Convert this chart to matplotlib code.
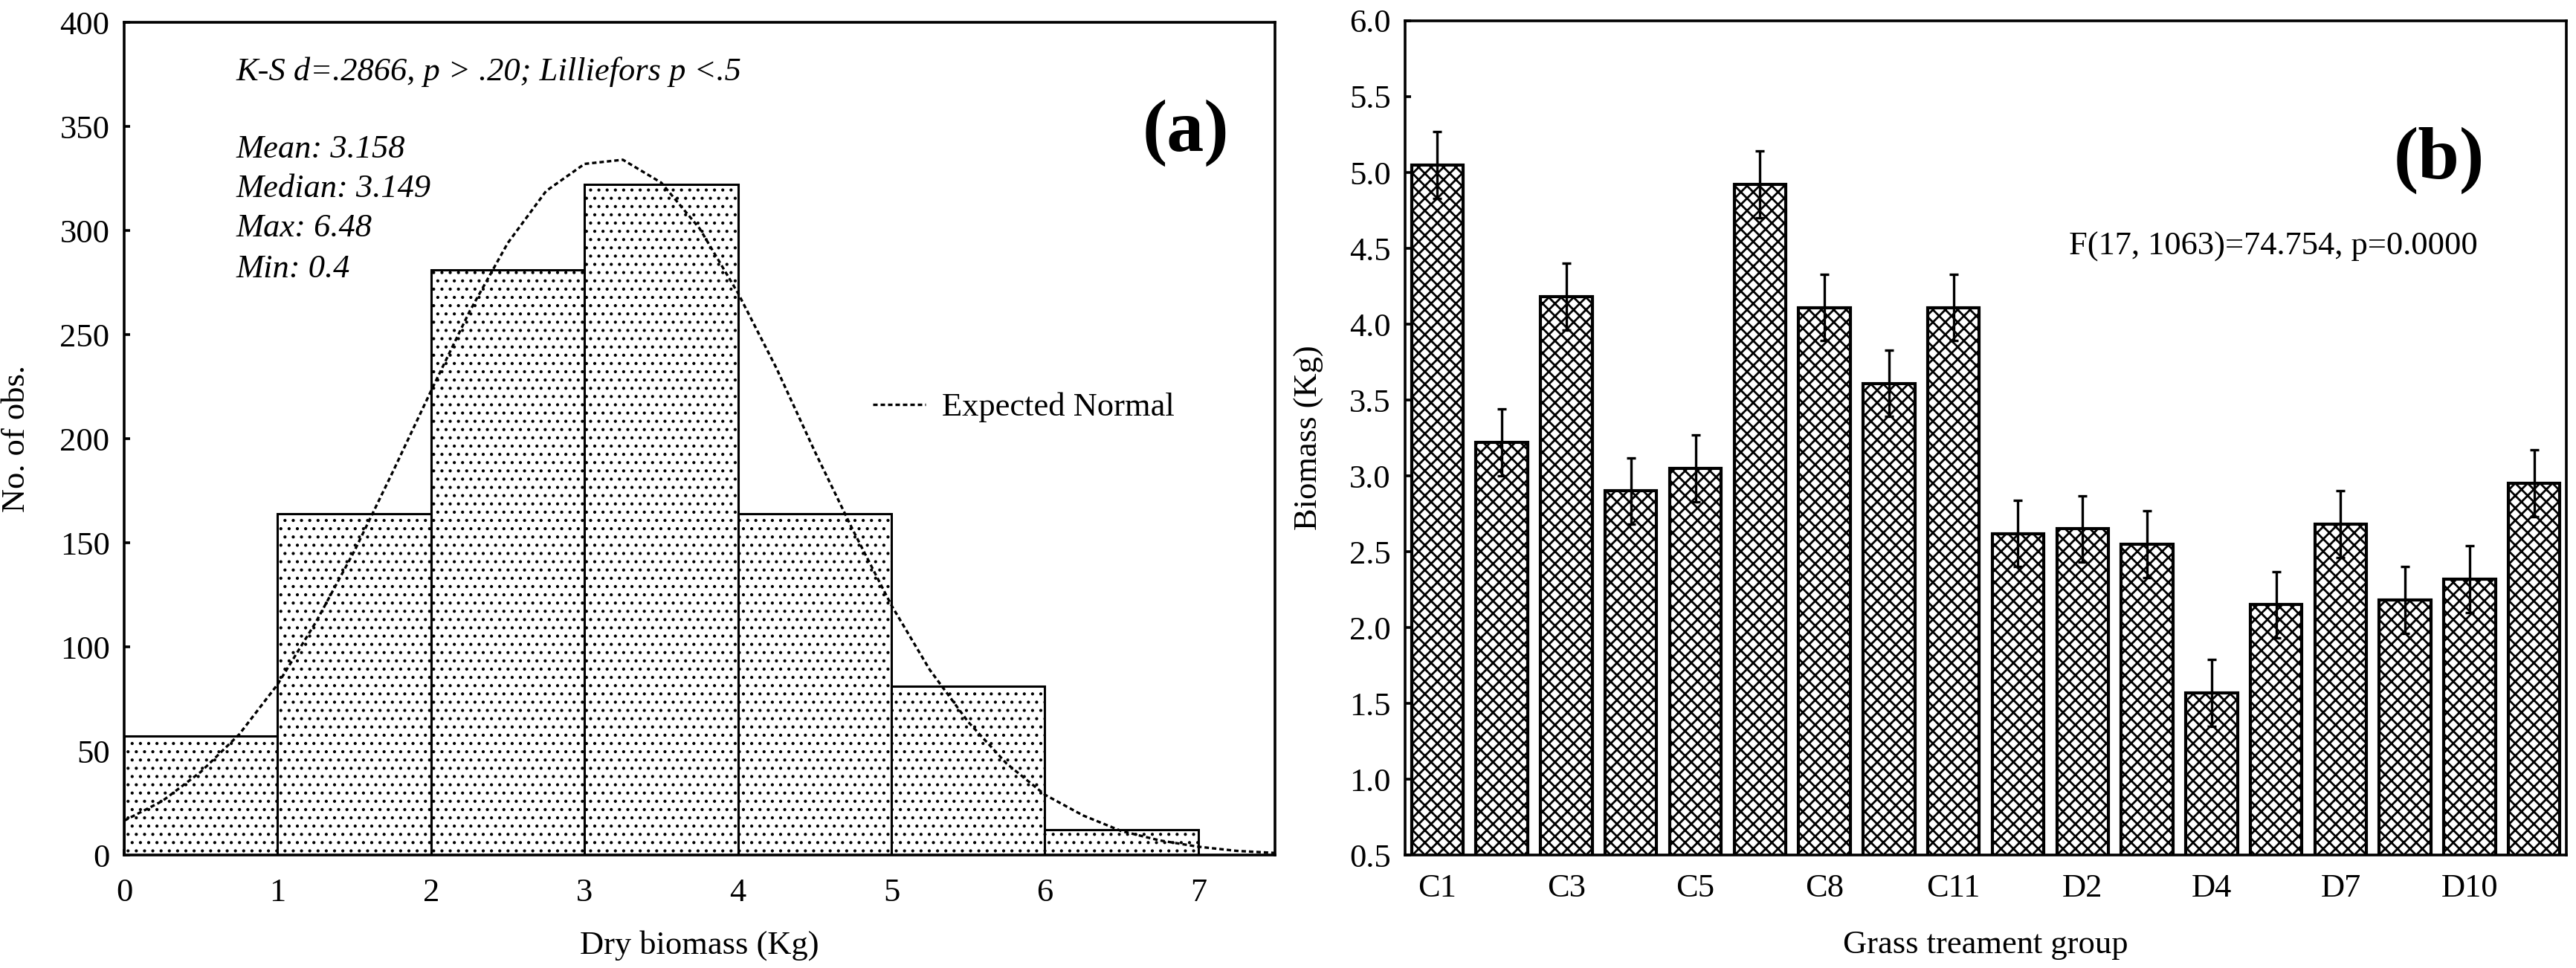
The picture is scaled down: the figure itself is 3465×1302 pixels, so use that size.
import numpy as np
import matplotlib
matplotlib.use("Agg")
import matplotlib.pyplot as plt

# ---- panel (a): histogram of dry biomass ----
bin_left = [0, 1, 2, 3, 4, 5, 6]
bin_count = [57, 164, 281, 322, 164, 81, 12]
# expected normal curve
norm_x = [0.0, 0.25, 0.5, 0.75, 1.0, 1.25, 1.5, 1.75, 2.0, 2.25, 2.5, 2.75,
          3.0, 3.25, 3.5, 3.75, 4.0, 4.25, 4.5, 4.75, 5.0, 5.25, 5.5, 5.75,
          6.0, 6.25, 6.5, 6.75, 7.0, 7.25, 7.5]
norm_y = [16.5, 26, 40, 58, 82, 112, 146, 184, 223, 261, 294, 319,
          332, 334, 323, 301, 270, 234, 194, 156, 120, 89, 64, 44,
          29, 19, 11.5, 7, 4, 2, 1]
stats_lines = ["Mean: 3.158", "Median: 3.149", "Max: 6.48", "Min: 0.4"]

# ---- panel (b): mean biomass by treatment group ----
groups = ["C1", "C2", "C3", "C4", "C5", "C7", "C8", "C9", "C11",
          "D1", "D2", "D3", "D4", "D6", "D7", "D8", "D10", "D11"]
biomass = [5.05, 3.22, 4.18, 2.90, 3.05, 4.92, 4.11, 3.61, 4.11,
           2.62, 2.65, 2.55, 1.57, 2.15, 2.68, 2.18, 2.32, 2.95]
biomass_err = [0.22, 0.22, 0.22, 0.22, 0.22, 0.22, 0.22, 0.22, 0.22,
               0.22, 0.22, 0.22, 0.22, 0.22, 0.22, 0.22, 0.22, 0.22]

plt.rcParams["font.family"] = ["Liberation Serif", "DejaVu Serif"]
plt.rcParams["hatch.linewidth"] = 0.7
plt.rcParams["hatch.color"] = "black"
FS = 16

fig = plt.figure(figsize=(17.33, 6.51), dpi=200)
ax1 = fig.add_axes([0.0482, 0.1167, 0.4466, 0.8602])
ax2 = fig.add_axes([0.5453, 0.1167, 0.4507, 0.8618])

# (a)
ax1.bar(bin_left, bin_count, width=1.0, align="edge", color="white",
        edgecolor="black", linewidth=1.1, hatch="...", zorder=2)
ax1.plot(norm_x, norm_y, color="black", lw=1.2, ls=(0, (1.8, 1.2)),
         label="Expected Normal", zorder=3)
ax1.set_xlim(0, 7.5)
ax1.set_ylim(0, 400)
ax1.set_xticks(range(0, 8))
ax1.set_yticks(range(0, 401, 50))
ax1.set_xlabel("Dry biomass (Kg)", fontsize=FS, labelpad=11)
ax1.set_ylabel("No. of obs.", fontsize=FS, labelpad=14)
ax1.text(0.73, 372, "K-S d=.2866, p > .20; Lilliefors p <.5", fontsize=FS,
         style="italic", va="baseline")
for yy, s in zip([335, 316, 297, 277.5], stats_lines):
    ax1.text(0.73, yy, s, fontsize=FS, style="italic", va="baseline")
ax1.text(7.2, 347, "(a)", fontsize=36, fontweight="bold", ha="right", va="center")
ax1.legend(loc="center left", bbox_to_anchor=(0.639, 0.5375), frameon=False,
           fontsize=FS, handlelength=1.6, handletextpad=0.5, borderaxespad=0)

# (b)
xpos = np.arange(len(groups))
bars = ax2.bar(xpos, biomass, width=0.8, bottom=0, color="white", edgecolor="black",
               linewidth=1.5, hatch="xxxx", zorder=2)
for p in bars:
    if hasattr(p, "set_hatch_linewidth"):
        p.set_hatch_linewidth(1.0)
ax2.errorbar(xpos, biomass, yerr=biomass_err, fmt="none", ecolor="black",
             elinewidth=1.2, capsize=2.3, capthick=1.2, zorder=3)
ax2.set_xlim(-0.5, len(groups) - 0.5)
ax2.set_ylim(0.5, 6.0)
ax2.set_xticks(xpos[::2])
ax2.set_xticklabels(groups[::2])
ax2.set_yticks(np.arange(0.5, 6.01, 0.5))
ax2.set_yticklabels([f"{v:.1f}" for v in np.arange(0.5, 6.01, 0.5)])
ax2.set_xlabel("Grass treament group", fontsize=FS, labelpad=13)
ax2.set_ylabel("Biomass (Kg)", fontsize=FS, labelpad=12)
ax2.text(16.23, 5.08, "(b)", fontsize=36, fontweight="bold", ha="right", va="center")
ax2.text(16.12, 4.51, "F(17, 1063)=74.754, p=0.0000", fontsize=FS,
         ha="right", va="center")

for ax in (ax1, ax2):
    for sp in ax.spines.values():
        sp.set_linewidth(1.3)
        sp.set_zorder(4)
    ax.tick_params(direction="in", length=3, width=1.3, labelsize=FS)
    ax.tick_params(axis="y", pad=7)
ax1.tick_params(axis="x", pad=11)
ax2.tick_params(axis="x", pad=9)

fig.savefig("out.png", dpi=200)
